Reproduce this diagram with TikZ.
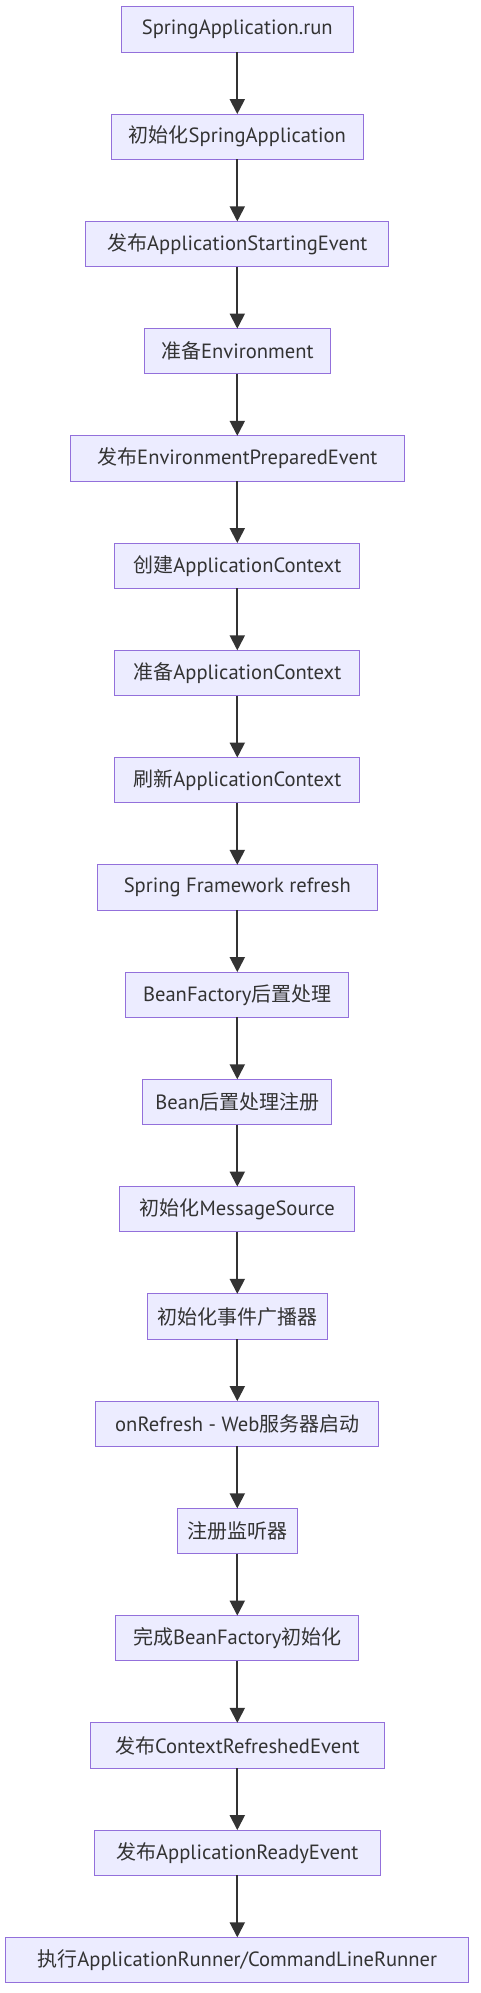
\documentclass[tikz,border=0pt]{standalone}
\usepackage{fontspec}
\setmainfont{PT Sans}[Scale=1.03]
\newfontfamily\cjk{Noto Sans CJK SC}
\usepackage{tikz}
\usetikzlibrary{positioning,arrows.meta}
\definecolor{boxfill}{HTML}{ECECFF}
\definecolor{boxline}{HTML}{9370DB}
\definecolor{ink}{HTML}{333333}

\begin{document}
\begin{tikzpicture}[x=1pt, y=-1pt, node distance=61.95pt,
  font=\fontsize{20pt}{24pt}\selectfont, text=ink,
  stepbox/.style={draw=boxline, fill=boxfill, line width=1pt, minimum height=45.3pt, inner xsep=10pt, inner ysep=2pt, outer sep=0pt},
  flow/.style={-{Triangle[width=15pt, length=15pt]}, draw=ink, line width=2pt}]
  \useasboundingbox (0,0) rectangle (480,1993);
  % startup chain
  \node[stepbox, minimum width=232pt] (run) at (237.3,29.5) {SpringApplication.run};
  \node[stepbox, minimum width=252pt, below=of run] (init) {{\cjk 初始化}SpringApplication};
  \node[stepbox, minimum width=303pt, below=of init] (starting) {{\cjk 发布}ApplicationStartingEvent};
  \node[stepbox, minimum width=186pt, below=of starting] (env) {{\cjk 准备}Environment};
  \node[stepbox, minimum width=334pt, below=of env] (envready) {{\cjk 发布}EnvironmentPreparedEvent};
  \node[stepbox, minimum width=245pt, below=of envready] (create) {{\cjk 创建}ApplicationContext};
  \node[stepbox, minimum width=245pt, below=of create] (prepare) {{\cjk 准备}ApplicationContext};
  \node[stepbox, minimum width=245pt, below=of prepare] (refresh) {{\cjk 刷新}ApplicationContext};
  % framework refresh
  \node[stepbox, minimum width=280pt, below=of refresh] (fwrefresh) {Spring Framework refresh};
  \node[stepbox, minimum width=223pt, below=of fwrefresh] (bfpost) {BeanFactory{\cjk 后置处理}};
  \node[stepbox, minimum width=189pt, below=of bfpost] (beanpost) {Bean{\cjk 后置处理注册}};
  \node[stepbox, minimum width=235pt, below=of beanpost] (msgsrc) {{\cjk 初始化}MessageSource};
  \node[stepbox, minimum width=178pt, below=of msgsrc] (multicast) {{\cjk 初始化事件广播器}};
  \node[stepbox, minimum width=283pt, below=of multicast] (onrefresh) {onRefresh - Web{\cjk 服务器启动}};
  \node[stepbox, minimum width=118pt, below=of onrefresh] (listeners) {{\cjk 注册监听器}};
  \node[stepbox, minimum width=243pt, below=of listeners] (finish) {{\cjk 完成}BeanFactory{\cjk 初始化}};
  % after refresh
  \node[stepbox, minimum width=294pt, below=of finish] (refreshed) {{\cjk 发布}ContextRefreshedEvent};
  \node[stepbox, minimum width=286pt, below=of refreshed] (ready) {{\cjk 发布}ApplicationReadyEvent};
  \node[stepbox, minimum width=463pt, below=of ready] (runners) {{\cjk 执行}ApplicationRunner/CommandLineRunner};
  % flows
  \foreach \a/\b in {run/init, init/starting, starting/env, env/envready, envready/create,
      create/prepare, prepare/refresh, refresh/fwrefresh, fwrefresh/bfpost, bfpost/beanpost,
      beanpost/msgsrc, msgsrc/multicast, multicast/onrefresh, onrefresh/listeners,
      listeners/finish, finish/refreshed, refreshed/ready, ready/runners}
    \draw[flow] (\a) -- (\b);
\end{tikzpicture}
\end{document}
